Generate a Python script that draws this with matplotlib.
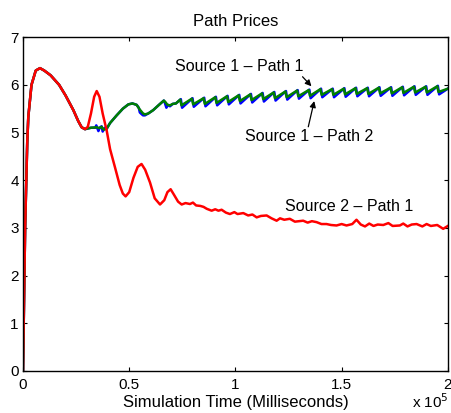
import matplotlib

matplotlib.use("Agg")
import matplotlib.pyplot as plt
import numpy as np

plt.rcParams["font.family"] = ["Liberation Sans", "DejaVu Sans"]

# time in thousands of milliseconds, price values
red_t = [0.0, 1.0, 2.0, 2.5, 4.0, 6.0, 8.0, 10.0, 13.0, 17.0, 20.0, 23.7, 26.0, 27.6, 29.2,
         30.5, 32.0, 33.5, 34.7, 36.0, 37.5, 39.4, 41.0, 43.3, 45.5, 47.0, 48.3, 50.0, 52.0,
         54.0, 55.8, 57.5, 59.8, 62.0, 64.5, 66.5, 68.0, 69.5, 71.0, 73.0, 74.7, 76.5, 78.6,
         80.0, 81.5, 83.5, 85.0, 86.5, 88.8, 90.5, 92.0, 93.5, 95.5, 97.4, 99.5, 101.0, 103.7,
         106.0, 108.0, 110.0, 112.0, 114.7, 117.0, 119.4, 121.0, 123.0, 125.6, 128.0, 131.9,
         134.0, 136.0, 138.2, 140.5, 142.9, 145.0, 147.6, 150.0, 152.3, 155.0, 157.0, 159.0,
         161.0, 163.0, 165.0, 167.0, 169.6, 172.0, 174.0, 177.4, 179.0, 181.0, 183.0, 185.3,
         188.0, 190.0, 192.0, 195.0, 197.8, 200.0]
red_p = [0.0, 3.0, 4.8, 5.33, 6.0, 6.3, 6.35, 6.3, 6.2, 6.0, 5.78, 5.47, 5.24, 5.11, 5.07,
         5.12, 5.4, 5.75, 5.87, 5.75, 5.4, 5.04, 4.65, 4.27, 3.9, 3.72, 3.66, 3.75, 4.05,
         4.28, 4.34, 4.22, 3.95, 3.62, 3.49, 3.58, 3.75, 3.81, 3.7, 3.55, 3.49, 3.52, 3.5,
         3.53, 3.47, 3.46, 3.44, 3.40, 3.36, 3.39, 3.36, 3.38, 3.32, 3.29, 3.33, 3.29, 3.31,
         3.26, 3.28, 3.22, 3.25, 3.26, 3.20, 3.15, 3.20, 3.17, 3.19, 3.13, 3.15,
         3.11, 3.14, 3.12, 3.08, 3.08, 3.06, 3.05, 3.08, 3.05, 3.08, 3.17, 3.07,
         3.03, 3.09, 3.04, 3.07, 3.06, 3.10, 3.04, 3.05, 3.09, 3.03, 3.07, 3.08,
         3.03, 3.08, 3.04, 3.06, 2.98, 3.04]

green_t = [0.0, 1.0, 2.0, 2.5, 4.0, 6.0, 8.0, 10.0, 13.0, 17.0, 20.0, 23.7, 26.0, 27.6, 29.2,
           30.0, 32.0, 34.7, 36.0, 37.0, 38.0, 39.4, 41.0, 44.1, 47.0, 49.6, 51.5, 53.5, 55.0,
           56.5, 57.4, 59.0, 61.3, 64.0, 66.3, 67.0, 68.0, 69.2, 70.5, 72.0,
           74.0, 74.6, 79.5, 80.1, 85.0, 85.6, 90.5, 91.1, 96.0, 96.6, 101.5, 102.1,
           107.0, 107.6, 112.5, 113.1, 118.0, 118.6, 123.5, 124.1, 129.0, 129.6,
           134.5, 135.1, 140.0, 140.6, 145.5, 146.1, 151.0, 151.6, 156.5, 157.1,
           162.0, 162.6, 167.5, 168.1, 173.0, 173.6, 178.5, 179.1, 184.0, 184.6,
           189.5, 190.1, 195.0, 195.6, 200.0]
green_p = [0.0, 3.0, 4.8, 5.33, 6.0, 6.3, 6.35, 6.3, 6.2, 6.0, 5.78, 5.47, 5.24, 5.11, 5.07,
           5.08, 5.10, 5.11, 5.09, 5.12, 5.06, 5.08, 5.2, 5.36, 5.5, 5.59, 5.61, 5.58, 5.48,
           5.40, 5.38, 5.40, 5.47, 5.58, 5.67, 5.64, 5.58, 5.57, 5.60, 5.61,
           5.69, 5.57, 5.71, 5.59, 5.72, 5.60, 5.74, 5.62, 5.76, 5.64, 5.78, 5.66,
           5.80, 5.68, 5.82, 5.70, 5.84, 5.72, 5.86, 5.74, 5.88, 5.76,
           5.89, 5.77, 5.91, 5.79, 5.91, 5.79, 5.92, 5.80, 5.93, 5.81,
           5.93, 5.81, 5.94, 5.82, 5.94, 5.82, 5.95, 5.83, 5.96, 5.84,
           5.96, 5.84, 5.97, 5.85, 5.92]

blue_t = [0.0, 1.0, 2.0, 2.5, 4.0, 6.0, 8.0, 10.0, 13.0, 17.0, 20.0, 23.7, 26.0, 27.6, 29.2,
          30.0, 32.0, 34.0, 34.5, 35.5, 36.0, 37.0, 37.5, 38.5, 39.4, 41.0, 44.1, 47.0, 49.6,
          51.5, 53.5, 54.5, 55.0, 56.5, 57.4, 59.0, 61.3, 64.0, 66.3, 66.8, 67.5, 68.3, 69.2,
          70.5, 72.0,
          74.3, 74.9, 79.8, 80.4, 85.3, 85.9, 90.8, 91.4, 96.3, 96.9, 101.8, 102.4,
          107.3, 107.9, 112.8, 113.4, 118.3, 118.9, 123.8, 124.4, 129.3, 129.9,
          134.8, 135.4, 140.3, 140.9, 145.8, 146.4, 151.3, 151.9, 156.8, 157.4,
          162.3, 162.9, 167.8, 168.4, 173.3, 173.9, 178.8, 179.4, 184.3, 184.9,
          189.8, 190.4, 195.3, 195.9, 200.0]
blue_p = [0.0, 3.0, 4.8, 5.33, 6.0, 6.3, 6.35, 6.3, 6.2, 6.0, 5.78, 5.47, 5.24, 5.11, 5.07,
          5.08, 5.10, 5.10, 5.15, 5.03, 5.10, 5.13, 5.02, 5.10, 5.08, 5.2, 5.36, 5.5, 5.59,
          5.61, 5.58, 5.52, 5.42, 5.36, 5.36, 5.40, 5.47, 5.58, 5.67, 5.62, 5.52, 5.58, 5.55,
          5.60, 5.61,
          5.70, 5.52, 5.72, 5.54, 5.73, 5.55, 5.75, 5.57, 5.77, 5.59, 5.79, 5.61,
          5.81, 5.63, 5.83, 5.65, 5.85, 5.67, 5.87, 5.69, 5.89, 5.71,
          5.90, 5.72, 5.92, 5.74, 5.92, 5.74, 5.93, 5.75, 5.94, 5.76,
          5.94, 5.76, 5.95, 5.77, 5.95, 5.77, 5.96, 5.78, 5.97, 5.79,
          5.97, 5.79, 5.98, 5.80, 5.92]

x_ticks = [0, 0.5, 1, 1.5, 2]
x_tick_labels = ["0", "0.5", "1", "1.5", "2"]
y_ticks = [0, 1, 2, 3, 4, 5, 6, 7]


def to_axis(t):
  # thousands of ms -> units of 10^5 ms
  return np.asarray(t) / 100.0


fig = plt.figure(figsize=(4.51, 4.13), dpi=100)
ax = fig.add_axes([0.051, 0.102, 0.942, 0.808])

ax.plot(to_axis(blue_t), blue_p, color="#0000ff", linewidth=1.8)
ax.plot(to_axis(green_t), green_p, color="#008000", linewidth=1.8)
ax.plot(to_axis(red_t), red_p, color="#ff0000", linewidth=1.8)

ax.set_xlim(0, 2)
ax.set_ylim(0, 7)
ax.set_xticks(x_ticks)
ax.set_xticklabels(x_tick_labels)
ax.set_yticks(y_ticks)
ax.tick_params(direction="in", top=True, right=True, length=3, width=0.8, labelsize=11)
ax.tick_params(axis="x", pad=5)
ax.tick_params(axis="y", pad=3)
for s in ax.spines.values():
  s.set_linewidth(1.0)

ax.set_title("Path Prices", fontsize=12, pad=8)
ax.set_xlabel("Simulation Time (Milliseconds)", fontsize=12, labelpad=2)
fig.text(0.913, 0.004, r"x 10$^5$", fontsize=11, ha="left", va="bottom")

arrow = dict(arrowstyle="-|>", color="k", lw=0.9, mutation_scale=9, shrinkA=0, shrinkB=0)
ax.text(to_axis(101.9), 6.38, "Source 1 \u2013 Path 1", fontsize=11.5, ha="center", va="center")
ax.annotate("", xy=(to_axis(135.8), 5.97), xytext=(to_axis(131.6), 6.17), arrowprops=arrow)
ax.text(to_axis(134.6), 4.91, "Source 1 \u2013 Path 2", fontsize=11.5, ha="center", va="center")
ax.annotate("", xy=(to_axis(137.1), 5.66), xytext=(to_axis(134.3), 5.12), arrowprops=arrow)
ax.text(to_axis(153.6), 3.45, "Source 2 \u2013 Path 1", fontsize=11.5, ha="center", va="center")

fig.savefig("out.png", dpi=100)
